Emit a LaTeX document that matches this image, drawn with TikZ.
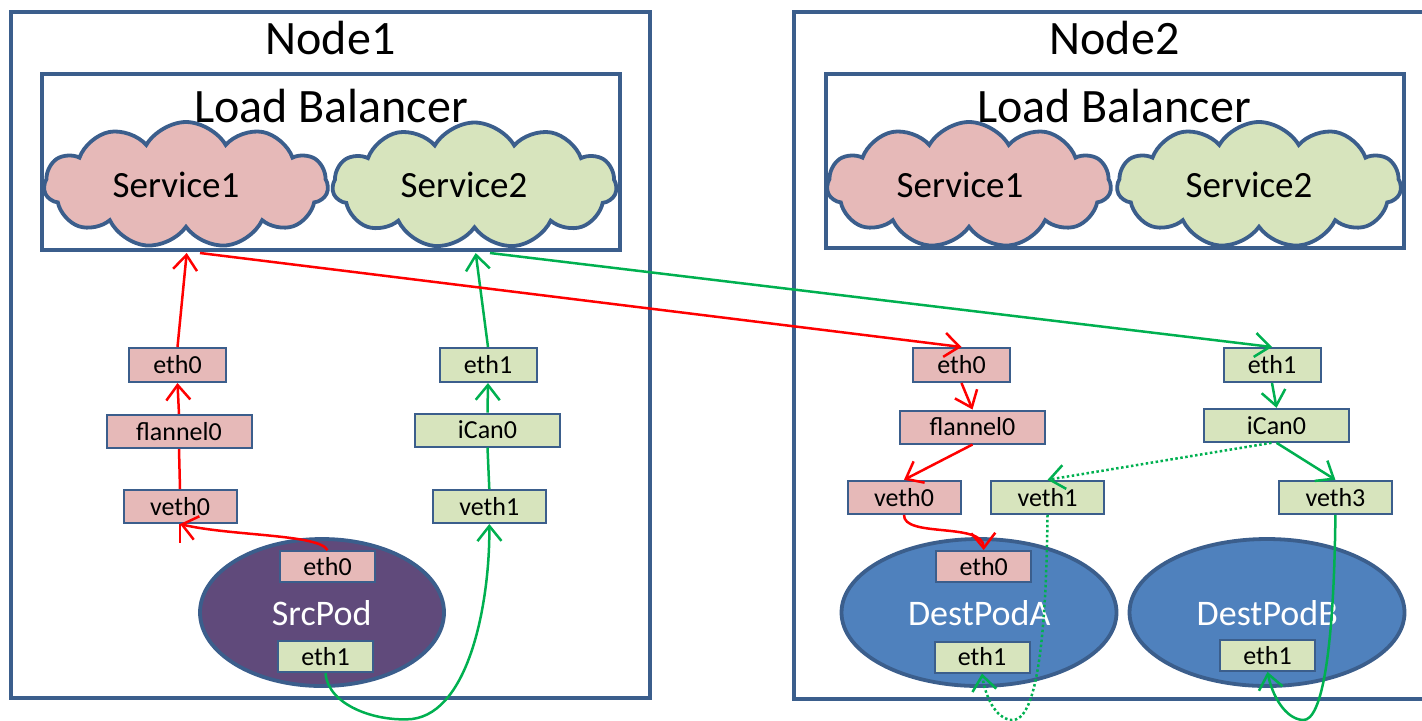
\documentclass[tikz,border=0pt]{standalone}
\usepackage{fontspec}
\setmainfont{Carlito}
\usetikzlibrary{shapes.symbols,shapes.geometric,arrows.meta}
\definecolor{frame}{HTML}{3B5E8C}
\definecolor{pinkf}{HTML}{E6B9B8}
\definecolor{greenf}{HTML}{D7E4BD}
\definecolor{purplef}{HTML}{604A7B}
\definecolor{bluef}{HTML}{4F81BD}
\definecolor{arrred}{HTML}{FF0000}
\definecolor{arrgreen}{HTML}{00B050}
\tikzset{
 framebox/.style={draw=frame, line width=2pt},
 cloudsty/.style={cloud, cloud puffs=11, cloud puff arc=120, draw=frame, line width=1.9pt, inner sep=0pt, minimum width=142pt, minimum height=63pt},
 ifbox/.style={draw=frame, line width=1pt, inner sep=0pt, font=\fontsize{13}{15}\selectfont},
 pinkbox/.style={ifbox, fill=pinkf},
 greenbox/.style={ifbox, fill=greenf},
 pod/.style={ellipse, draw=frame, line width=1.9pt, inner sep=0pt, minimum height=73.5pt},
 podlabel/.style={text=white, font=\fontsize{18}{22}\selectfont, anchor=base},
 bigtitle/.style={font=\fontsize{24}{28}\selectfont, anchor=base},
 svclabel/.style={font=\fontsize{18.5}{22}\selectfont, anchor=base},
 arrowend/.style={-{Straight Barb[length=7.5pt, width=12pt]}},
 redflow/.style={line width=1.25pt, draw=arrred},
 greenflow/.style={line width=1.25pt, draw=arrgreen},
 dotflow/.style={greenflow, dash pattern=on 1.25pt off 1.25pt},
 ethsz/.style={minimum width=48.5pt, minimum height=17pt},
 midsz/.style={minimum width=72.5pt, minimum height=16.5pt},
 vethsz/.style={minimum width=56.5pt, minimum height=16.5pt},
 podsz/.style={minimum width=47.5pt, minimum height=15.5pt},
}
\begin{document}
\begin{tikzpicture}[x=0.5pt, y=-0.5pt]
\useasboundingbox (0,0) rectangle (1422,720);
% frames
\draw[framebox] (10.5,12) rectangle (650,698);
\draw[framebox] (794,12) rectangle (1440,699);
\draw[framebox] (42,74) rectangle (620,250);
\draw[framebox] (826,74) rectangle (1404,248);
\node[bigtitle] (t1) at (330.5,54) {Node1};
\node[bigtitle] (t2) at (1114.5,54) {Node2};
\node[bigtitle] (lb1) at (331,122) {Load Balancer};
\node[bigtitle] (lb2) at (1114,122) {Load Balancer};
% clouds
\node[cloudsty, fill=pinkf] (s11) at (186,185) {};
\node[cloudsty, fill=greenf] (s12) at (474.5,185.5) {};
\node[cloudsty, fill=pinkf] (s21) at (969,185) {};
\node[cloudsty, fill=greenf] (s22) at (1259,185) {};
\node[svclabel] (s11l) at (176,197) {Service1};
\node[svclabel] (s12l) at (464,197) {Service2};
\node[svclabel] (s21l) at (960,197) {Service1};
\node[svclabel] (s22l) at (1249,197) {Service2};
% Node1 interfaces
\node[pinkbox, ethsz] (aeth0) at (177.5,365) {eth0};
\node[pinkbox, midsz] (afl) at (179,431.5) {flannel0};
\node[pinkbox, vethsz] (aveth0) at (180,506.5) {veth0};
\node[greenbox, ethsz] (aeth1) at (488,365) {eth1};
\node[greenbox, midsz] (aican) at (487.5,430) {iCan0};
\node[greenbox, vethsz] (aveth1) at (489.3,506.5) {veth1};
\node[pod, fill=purplef, minimum width=122pt] (src) at (322,612.5) {};
\node[podlabel] (srcl) at (321.7,625) {SrcPod};
\node[pinkbox, podsz] (srceth0) at (327.5,566.7) {eth0};
\node[greenbox, podsz] (srceth1) at (325.5,656.7) {eth1};
% Node2 interfaces
\node[pinkbox, ethsz] (beth0) at (961.5,365) {eth0};
\node[pinkbox, midsz] (bfl) at (972.5,427) {flannel0};
\node[pinkbox, vethsz] (bveth0) at (904,497.3) {veth0};
\node[greenbox, vethsz] (bveth1) at (1047.5,497.3) {veth1};
\node[greenbox, ethsz] (beth1) at (1272,365) {eth1};
\node[greenbox, midsz] (bican) at (1276.5,425.3) {iCan0};
\node[greenbox, vethsz] (bveth3) at (1335.4,497.3) {veth3};
\node[pod, fill=bluef, minimum width=137.5pt] (pa) at (979,612.5) {};
\node[podlabel] (pal) at (979.2,625) {DestPodA};
\node[pinkbox, podsz] (paeth0) at (983.7,566.5) {eth0};
\node[greenbox, podsz] (paeth1) at (982,657) {eth1};
\node[pod, fill=bluef, minimum width=137.5pt] (pb) at (1267,612.5) {};
\node[podlabel] (pbl) at (1267.3,625) {DestPodB};
\node[greenbox, podsz] (pbeth1) at (1267.5,655.3) {eth1};
% anchor points at clouds
\coordinate (s11tip) at (186.7,253);
\coordinate (s11out) at (200,253);
\coordinate (s12tip) at (475.7,253);
\coordinate (s12out) at (490,253);
% Node1 flows
\draw[redflow, arrowend] (aeth0.north) -- (s11tip);
\draw[redflow, arrowend] (afl.north) -- (aeth0.south);
\draw[redflow] (aveth0.north) -- (afl.south);
\draw[redflow, arrowend] (srceth0.north) .. controls (320,534) and (230,536) .. (aveth0.south);
\draw[redflow] (aveth0.south) -- ++(0,19);
\draw[greenflow, arrowend] (aeth1.north) -- (s12tip);
\draw[greenflow, arrowend] (aican.north) -- (aeth1.south);
\draw[greenflow] (aveth1.north) -- (aican.south);
\draw[greenflow, arrowend] (srceth1.south) .. controls (328,705) and (375,722) .. (412,719) .. controls (470,712) and (490,600) .. (aveth1.south);
% cross-node flows
\draw[redflow, arrowend] (s11out) -- (beth0.north);
\draw[greenflow, arrowend] (s12out) -- (beth1.north);
% Node2 flows
\draw[redflow, arrowend] (beth0.south) -- (bfl.north);
\draw[redflow, arrowend] (bfl.south) -- (bveth0.north);
\draw[redflow, arrowend] (bveth0.south) .. controls (903,538) and (983,522) .. (paeth0.north);
\draw[greenflow, arrowend] (beth1.south) -- (bican.north);
\draw[greenflow, arrowend] (bican.south) -- (bveth3.north);
\draw[dotflow, arrowend] ([xshift=-2.5pt]bican.south) -- (bveth1.north);
\draw[dotflow, arrowend] (bveth1.south) .. controls (1046,650) and (1035,721) .. (1012,720) .. controls (995,719) and (985,695) .. (paeth1.south);
\draw[greenflow, arrowend] (bveth3.south) .. controls (1334,650) and (1322,721) .. (1303,720) .. controls (1285,719) and (1272,695) .. (pbeth1.south);
\end{tikzpicture}
\end{document}
